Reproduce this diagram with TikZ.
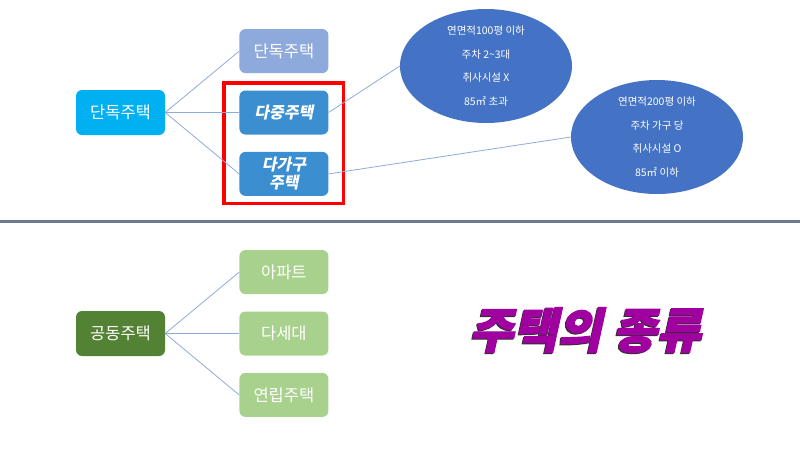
\documentclass[tikz,border=0pt]{standalone}
\usepackage{fontspec}
\setmainfont{Noto Sans CJK KR}
\newfontfamily\krslant[FakeSlant=0.2]{Noto Sans CJK KR}
\newfontfamily\krtitle[FakeSlant=0.22,FakeBold=2.5]{Noto Sans CJK KR}
\usetikzlibrary{positioning, shapes.geometric, fit}

\definecolor{skyblue}{HTML}{00B0F0}
\definecolor{paleblue}{HTML}{8EA9DB}
\definecolor{midblue}{HTML}{3B8ED0}
\definecolor{infoblue}{HTML}{4472C4}
\definecolor{linkblue}{HTML}{8FAADC}
\definecolor{darkgreen}{HTML}{548235}
\definecolor{palegreen}{HTML}{A9D18E}
\definecolor{dividergray}{HTML}{6A7A90}
\definecolor{titlepurple}{HTML}{A000A0}
\definecolor{shadowgray}{HTML}{303030}

\begin{document}
\begin{tikzpicture}[
		x=1pt, y=1pt,
		box/.style= {
				rounded corners=6pt,
				minimum width=89pt,
				minimum height=44pt,
				inner sep=0pt,
				align=center,
				text=white,
				font=\fontsize{16.5}{18}\selectfont
			},
		root/.style= {
				box,
				minimum height=45pt
			},
		paleitem/.style= {
				box,
				fill=paleblue
			},
		mainitem/.style= {
				box,
				fill=midblue,
				font=\krslant\bfseries\fontsize{16}{18}\selectfont
			},
		greenitem/.style= {
				box,
				fill=palegreen
			},
		info/.style= {
				ellipse,
				fill=infoblue,
				minimum width=172pt,
				minimum height=112pt,
				inner sep=0pt,
				align=center,
				text=white,
				font=\fontsize{10.5}{23.7}\selectfont
			},
		link/.style= {
				draw=linkblue,
				line width=0.8pt
			},
		highlight/.style= {
				draw=red,
				line width=3.5pt,
				inner xsep=15pt,
				inner ysep=7.5pt
			},
		heading/.style= {
				font=\krtitle\bfseries\fontsize{48}{48}\selectfont
			}
	]

	\useasboundingbox (0,0) rectangle (800,-450);

	% detached houses
	\node[root, fill=skyblue] (detached) at (120.5,-112.5) {단독주택};
	\node[mainitem] (multi) [right=74pt of detached] {다중주택};
	\node[paleitem] (single) [above=17pt of multi] {단독주택};
	\node[mainitem] (multifamily) [below=17pt of multi] {다가구\\주택};
	\node[highlight, fit=(multi) (multifamily)] (focus) {};

	\node[info] (small) at (486,-66) {연면적100평 이하\\주차 2\textasciitilde3대\\취사시설 X\\85㎡ 초과};
	\node[info] (large) at (657,-137) {연면적200평 이하\\주차 가구 당\\취사시설 O\\85㎡ 이하};

	\draw[link] (detached.east) -- (single.west);
	\draw[link] (detached.east) -- (multi.west);
	\draw[link] (detached.east) -- (multifamily.west);
	\draw[link] (multi.east) -- (small.west);
	\draw[link] (multifamily.east) -- (large.west);

	\draw[dividergray, line width=3pt] (0,-221) -- (800,-221);

	% apartment houses
	\node[root, fill=darkgreen] (shared) at (120.5,-333.5) {공동주택};
	\node[greenitem] (multiunit) [right=74pt of shared] {다세대};
	\node[greenitem] (apartment) [above=17pt of multiunit] {아파트};
	\node[greenitem] (rowhouse) [below=17pt of multiunit] {연립주택};

	\draw[link] (shared.east) -- (apartment.west);
	\draw[link] (shared.east) -- (multiunit.west);
	\draw[link] (shared.east) -- (rowhouse.west);

	\node[heading, text=shadowgray] (titleshadow) at (584,-331) {주택의 종류};
	\node[heading, text=titlepurple] (title) at (585,-330) {주택의 종류};
\end{tikzpicture}
\end{document}
